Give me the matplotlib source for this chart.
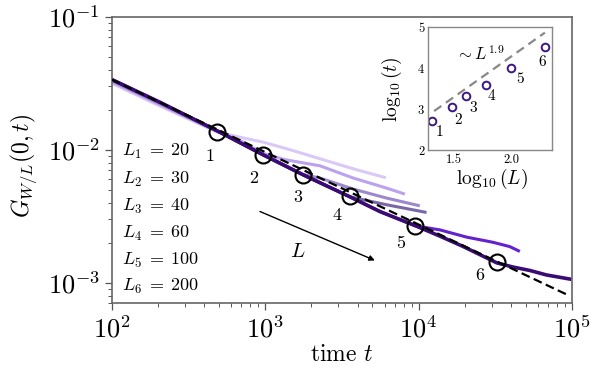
import numpy as np
import matplotlib
matplotlib.use("Agg")
import matplotlib.pyplot as plt

plt.rcParams['font.family'] = 'serif'
plt.rcParams['font.serif'] = ['cmr10', 'DejaVu Serif']
plt.rcParams['mathtext.fontset'] = 'cm'
plt.rcParams['axes.unicode_minus'] = False
plt.rcParams['axes.formatter.use_mathtext'] = True

# ---------------- data (log10 values) ----------------
L_values = [20, 30, 40, 60, 100, 200]
L_names = ["L_1", "L_2", "L_3", "L_4", "L_5", "L_6"]
colors = ["#dac9f5", "#bca2ee", "#9d88cb", "#7a67a8", "#6422cf", "#3a0c73"]

# log10(t), log10(G) for each curve
L1_logt = [2.0, 2.315, 2.686, 2.836, 2.986, 3.162, 3.357, 3.572, 3.787]
L1_logG = [-1.500, -1.672, -1.866, -1.906, -1.943, -2.000, -2.068, -2.143, -2.211]

L2_logt = [2.0, 2.315, 2.686, 2.836, 2.986, 3.129, 3.357, 3.574, 3.792, 3.911]
L2_logG = [-1.489, -1.661, -1.862, -1.930, -2.028, -2.075, -2.121, -2.213, -2.289, -2.334]

L3_logt = [2.0, 2.315, 2.686, 2.986, 3.246, 3.357, 3.574, 3.792, 4.008]
L3_logG = [-1.481, -1.653, -1.860, -2.036, -2.186, -2.213, -2.296, -2.364, -2.422]

L4_logt = [2.0, 2.315, 2.686, 2.986, 3.246, 3.552, 3.670, 3.792, 4.052]
L4_logG = [-1.473, -1.645, -1.857, -2.038, -2.188, -2.354, -2.384, -2.414, -2.472]

L5_logt = [2.0, 2.315, 2.686, 2.986, 3.246, 3.552, 3.748, 3.982, 4.139, 4.315, 4.484, 4.595, 4.660]
L5_logG = [-1.472, -1.644, -1.857, -2.038, -2.188, -2.354, -2.465, -2.573, -2.603, -2.658, -2.696, -2.729, -2.765]

L6_logt = [2.0, 2.315, 2.686, 2.986, 3.246, 3.552, 3.748, 3.982, 4.139, 4.289, 4.510, 4.614, 4.725, 4.834, 4.997]
L6_logG = [-1.472, -1.644, -1.857, -2.038, -2.188, -2.354, -2.465, -2.573, -2.650, -2.727, -2.851, -2.882, -2.908, -2.942, -2.975]

curves_logt = [L1_logt, L2_logt, L3_logt, L4_logt, L5_logt, L6_logt]
curves_logG = [L1_logG, L2_logG, L3_logG, L4_logG, L5_logG, L6_logG]

# dashed power-law guide (two end points)
guide_logt = [2.0, 4.986]
guide_logG = [-1.473, -3.100]

# crossover circles on the main plot
circle_logt = [2.688, 2.988, 3.248, 3.552, 3.980, 4.508]
circle_logG = [-1.870, -2.038, -2.188, -2.347, -2.573, -2.844]
circle_labels = ["1", "2", "3", "4", "5", "6"]

# inset: log10(L) vs log10(t)
inset_logL = [np.log10(v) for v in L_values]
inset_logt = [2.71, 3.04, 3.32, 3.585, 4.01, 4.51]
inset_guide_x = [1.321, 2.30]
inset_guide_y = [2.951, 4.87]

# ---------------- figure ----------------
fig = plt.figure(figsize=(5.92, 3.72), dpi=100)
ax = fig.add_axes([0.1887, 0.1847, 0.7775, 0.7704])

for lt, lg, c, lw in zip(curves_logt, curves_logG, colors, [2.2, 2.2, 2.2, 2.2, 2.2, 2.6]):
    ax.plot(10 ** np.array(lt), 10 ** np.array(lg), color=c, lw=lw,
            solid_capstyle='butt', zorder=2)

ax.plot(10 ** np.array(guide_logt), 10 ** np.array(guide_logG), color='black',
        lw=1.6, ls=(0, (4, 2)), zorder=3)

ax.plot(10 ** np.array(circle_logt), 10 ** np.array(circle_logG), 'o', ms=11.5,
        mfc='none', mec='black', mew=1.5, zorder=4)

main_offsets = [(-7, -24), (-10, -24), (-5, -23), (-13, -19), (-15, -17), (-17, -13)]
for lt, lg, lab, off in zip(circle_logt, circle_logG, circle_labels, main_offsets):
    ax.annotate(lab, (10 ** lt, 10 ** lg), xytext=off, textcoords='offset pixels',
                ha='center', va='center', fontsize=13)

ax.set_xscale('log')
ax.set_yscale('log')
ax.set_xlim(1e2, 1e5)
ax.set_ylim(10 ** -3.155, 1e-1)

ax.tick_params(which='major', direction='out', length=5, width=0.9, colors='#555',
               labelsize=19, labelcolor='black')
ax.tick_params(which='minor', direction='out', length=3, width=0.7, colors='#555')
for s in ax.spines.values():
    s.set_color('#666')
    s.set_linewidth(1.2)

ax.set_xlabel(r"time $t$", fontsize=17)
ax.set_ylabel(r"$G_{W/L}(0,t)$", fontsize=17)
ax.yaxis.set_label_coords(-0.158, 0.48)
ax.xaxis.set_label_coords(0.5, -0.14)

# L labels
ly = [0.529, 0.433, 0.339, 0.244, 0.151, 0.058]
for name, val, y in zip(L_names, L_values, ly):
    ax.text(0.0217, y, rf"${name}\;=\;{val}$", transform=ax.transAxes,
            ha='left', va='center', fontsize=13)

# arrow with L
ax.annotate("", xy=(5190, 1.47e-3), xytext=(925, 3.43e-3),
            arrowprops=dict(arrowstyle='-|>', color='black', lw=1.0,
                            mutation_scale=8, shrinkA=0, shrinkB=0))
ax.text(1637, 1.71e-3, r"$L$", fontsize=15, ha='center', va='center')

# ---------------- inset ----------------
ins = fig.add_axes([0.7235, 0.5968, 0.2084, 0.3298])
ins.plot(inset_guide_x, inset_guide_y, color='#888', lw=1.6, ls=(0, (4, 2.5)))
ins.plot(inset_logL, inset_logt, 'o', ms=5.5, mfc='white', mec='#3d1585', mew=1.4)
ins_offsets = [(7.4, -11), (6.6, -12.7), (7.3, -12.6), (6, -10.7), (8.7, -11.3), (-3, -14.7)]
for x, y, lab, off in zip(inset_logL, inset_logt, circle_labels, ins_offsets):
    ins.annotate(lab, (x, y), xytext=off, textcoords='offset pixels',
                 ha='center', va='center', fontsize=11)
ins.text(1.727, 4.36, r"$\sim L^{1.9}$", fontsize=12, ha='center', va='center')
ins.set_xlim(1.27, 2.36)
ins.set_ylim(2, 5)
ins.set_xticks([1.5, 2.0])
ins.set_xticklabels(["1.5", "2.0"])
ins.set_yticks([2, 3, 4, 5])
ins.set_yticklabels(["2", "3", "4", "5"])
ins.tick_params(length=0, labelsize=9, pad=3)
for s in ins.spines.values():
    s.set_color('#888')
    s.set_linewidth(1.0)
ins.set_xlabel(r"$\log_{10}(L)$", fontsize=14)
ins.set_ylabel(r"$\log_{10}(t)$", fontsize=14)
ins.xaxis.set_label_coords(0.514, -0.14)
ins.yaxis.set_label_coords(-0.2, 0.5)

fig.savefig("out.png", dpi=100)
